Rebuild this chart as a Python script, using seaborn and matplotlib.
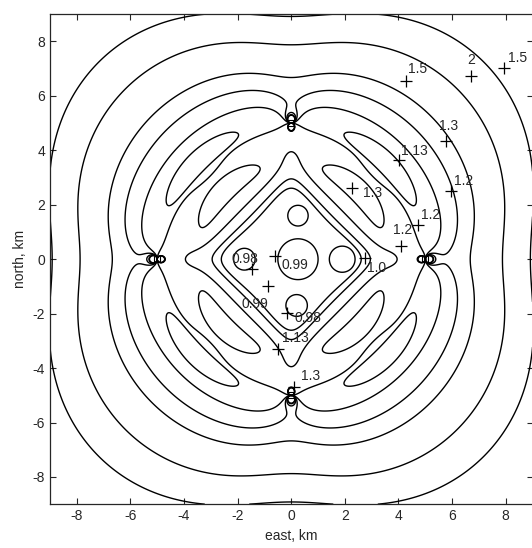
import numpy as np
import matplotlib
matplotlib.use("Agg")
import matplotlib.pyplot as plt
import seaborn as sns

# electrode positions, km
src_x = [5.0, 0.0, -5.0, 0.0]
src_y = [0.0, 5.0, 0.0, -5.0]
src_r = 5.0

# distance from the centre (km) where each contour line cuts the diagonal
line_r = [1.95, 2.2, 2.6, 4.3, 5.9, 6.65, 7.4, 8.8, 10.2]

# closed elongated loops along the diagonals: radius, radial half width, half length (km)
ell_r = [3.55, 5.0]
ell_dr = [0.4, 0.38]
ell_len = [1.6, 1.9]
quad_ang = [45, 135, 225, 315]

# small closed loops near the centre
isl_x = [0.25, 1.9, -1.75, 0.25, 0.2]
isl_y = [0.0, 0.0, 0.0, 1.6, -1.7]
isl_rad = [0.75, 0.48, 0.4, 0.38, 0.4]

# marked points
pt_x = [4.27, 6.69, 7.94, 5.76, 4.02, 5.94, 2.28, 4.74, 4.08, 2.76, -1.47, -0.6, -0.88, -0.16, -0.51, 0.09]
pt_y = [6.54, 6.72, 7.03, 4.33, 3.63, 2.49, 2.61, 1.26, 0.49, 0.04, -0.37, 0.12, -0.98, -1.99, -3.3, -4.69]

# contour value labels
lab_txt = ["1.5", "2", "1.5", "1.3", "1.13", "1.2", "1.3", "1.2", "1.2", "1.0",
           "0.98", "0.99", "0.99", "0.98", "1.13", "1.3"]
lab_x = [4.7, 6.72, 8.43, 5.88, 4.58, 6.44, 3.02, 5.2, 4.14, 3.2,
         -1.72, 0.15, -1.34, 0.64, 0.15, 0.73]
lab_y = [6.97, 7.33, 7.4, 4.88, 3.96, 2.86, 2.43, 1.63, 1.08, -0.33,
         0.01, -0.21, -1.65, -2.17, -2.9, -4.28]


def base(xx, yy):
    s = (xx + 1j * yy) / src_r
    t = np.abs(s)
    with np.errstate(all="ignore"):
        f = np.real(1.0 / (s ** 4 - 1.0)) - 10.0 / (1.0 + t ** 6)
    # pointed star shape around the centre
    f -= 10.0 * np.real(s ** 4) * t ** 4 * np.exp(-(t / 0.85) ** 12)
    return f


grid = np.linspace(-9, 9, 720)
X, Y = np.meshgrid(grid, grid)
F = base(X, Y)

d = np.array(line_r) / np.sqrt(2)
levels = np.unique(base(d, d))

R = np.hypot(X, Y)
TH = np.degrees(np.arctan2(Y, X))
E = np.full(X.shape, 10.0)
for a in quad_ang:
    dth = np.radians((TH - a + 180) % 360 - 180)
    for r0, dr, hl in zip(ell_r, ell_dr, ell_len):
        E = np.minimum(E, ((R - r0) / dr) ** 2 + (dth * r0 / hl) ** 2)

D = np.full(X.shape, 10.0)
for xi, yi, ri in zip(isl_x, isl_y, isl_rad):
    D = np.minimum(D, ((X - xi) ** 2 + (Y - yi) ** 2) / ri ** 2)

sns.set_style("ticks")
plt.rcParams["font.family"] = ["Liberation Sans", "DejaVu Sans"]
plt.rcParams["xtick.direction"] = "in"
plt.rcParams["ytick.direction"] = "in"
plt.rcParams["axes.unicode_minus"] = False

fig = plt.figure(figsize=(5.32, 5.48), dpi=100)
ax = fig.add_axes([0.094, 0.080, 0.907, 0.894])
kw = dict(colors="k", linewidths=1.0, linestyles="solid")
ax.contour(X, Y, F, levels=levels, **kw)
ax.contour(X, Y, E, levels=[1.0], **kw)
ax.contour(X, Y, D, levels=[1.0], **kw)

sns.scatterplot(x=pt_x, y=pt_y, marker="+", s=80, color="k", linewidth=0.9, ax=ax)
ax.plot(src_x, src_y, "s", ms=5, mfc="none", mec="k", mew=0.8)
for t, lx, ly in zip(lab_txt, lab_x, lab_y):
    ax.text(lx, ly, t, fontsize=10, ha="center", va="center")

ax.set_xlim(-9, 9)
ax.set_ylim(-9, 9)
ax.set_xticks(range(-8, 9, 2))
ax.set_yticks(range(-8, 9, 2))
ax.tick_params(top=True, right=True, length=4, width=0.8, labelsize=10)
for sp in ax.spines.values():
    sp.set_linewidth(0.9)
ax.set_xlabel("east, km", fontsize=10)
ax.set_ylabel("north, km", fontsize=10)
fig.savefig("out.png")
